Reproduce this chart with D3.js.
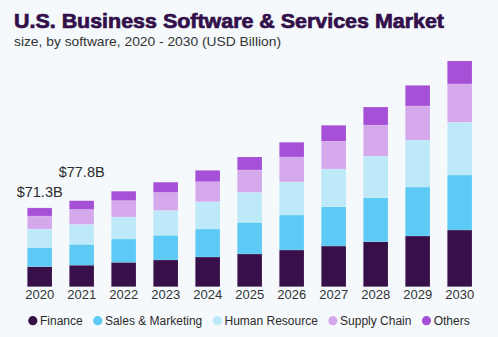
<!DOCTYPE html>
<html>
<head>
<meta charset="utf-8">
<script src="https://cdn.jsdelivr.net/npm/d3@7"></script>
<style>
  html, body { margin: 0; padding: 0; background: #f5f9fc; }
  svg { display: block; font-family: "Liberation Sans", Arial, sans-serif; }
</style>
</head>
<body>
<svg id="chart" width="498" height="337"></svg>
<script>
// U.S. business software & services market size by software segment (USD Billion)
const years = ["2020","2021","2022","2023","2024","2025","2026","2027","2028","2029","2030"];
const segments = ["Finance","Sales & Marketing","Human Resource","Supply Chain","Others"];
const finance        = [18.2, 19.5, 22.1, 24.2, 26.9, 29.6, 33.2, 36.8, 40.7, 45.9, 51.3];
const salesMarketing = [17.3, 18.9, 21.1, 22.4, 25.3, 28.7, 31.7, 35.6, 39.8, 44.3, 49.8];
const humanResource  = [16.7, 18.0, 19.9, 22.4, 24.7, 27.1, 29.9, 34.1, 37.7, 42.5, 47.7];
const supplyChain    = [11.8, 13.5, 14.8, 16.3, 18.1, 20.2, 22.6, 25.1, 28.1, 30.8, 34.7];
const others         = [ 7.3,  7.9,  8.5,  9.3, 10.3, 11.8, 13.3, 14.5, 16.3, 18.7, 20.8];
// years whose total is written above the bar
const labelledYears = ["2020","2021"];

const colors = ["#37104a", "#5ccaf5", "#bde9f9", "#d5a8ec", "#a650d7"];
const seriesValues = [finance, salesMarketing, humanResource, supplyChain, others];

const rows = years.map((yr, i) => {
  const r = { year: yr };
  segments.forEach((s, j) => { r[s] = seriesValues[j][i]; });
  r.total = d3.sum(seriesValues, v => v[i]);
  return r;
});

const svg = d3.select("#chart");

// title and subtitle
svg.append("text")
  .attr("x", 14).attr("y", 27.5)
  .attr("font-size", 20).attr("font-weight", 900)
  .attr("fill", "#33104a").attr("stroke", "#33104a").attr("stroke-width", 0.7)
  .attr("textLength", 430).attr("lengthAdjust", "spacingAndGlyphs")
  .text("U.S. Business Software & Services Market");

svg.append("text")
  .attr("x", 14).attr("y", 45.5)
  .attr("font-size", 13.5)
  .attr("fill", "#333")
  .attr("textLength", 267).attr("lengthAdjust", "spacingAndGlyphs")
  .text("size, by software, 2020 - 2030 (USD Billion)");

// scales
const x = d3.scaleBand()
  .domain(years)
  .range([18.65, 480.65])
  .paddingInner(0.412)
  .paddingOuter(0.206);

const y = d3.scaleLinear()
  .domain([0, 200])
  .range([286.7, 65.7]);

const color = d3.scaleOrdinal().domain(segments).range(colors);

const stacked = d3.stack().keys(segments)(rows);

svg.append("g")
  .selectAll("g")
  .data(stacked)
  .join("g")
    .attr("fill", d => color(d.key))
  .selectAll("rect")
  .data(d => d)
  .join("rect")
    .attr("x", d => x(d.data.year))
    .attr("width", x.bandwidth())
    .attr("y", d => y(d[1]))
    .attr("height", d => y(d[0]) - y(d[1]))
    .attr("stroke", "#ffffff")
    .attr("stroke-opacity", 0.25)
    .attr("stroke-width", 0.5);

// total value labels
const labelLift = { "2020": 10.5, "2021": 23.5 };
svg.append("g")
  .selectAll("text")
  .data(rows.filter(r => labelledYears.includes(r.year)))
  .join("text")
    .attr("x", d => x(d.year) + x.bandwidth() / 2)
    .attr("y", d => y(d.total) - labelLift[d.year])
    .attr("text-anchor", "middle")
    .attr("font-size", 14.5)
    .attr("fill", "#2b2b2b")
    .text(d => "$" + d.total.toFixed(1) + "B");

// x axis (labels only)
const xAxis = svg.append("g")
  .attr("transform", "translate(0,286.7)")
  .call(d3.axisBottom(x).tickSize(0).tickPadding(3));
xAxis.select(".domain").remove();
xAxis.selectAll("text")
  .attr("font-size", 13)
  .attr("font-family", "Liberation Sans, Arial, sans-serif")
  .attr("fill", "#333");

// legend, centred under the chart
const legend = svg.append("g");
let lx = 0;
segments.forEach((s, i) => {
  const item = legend.append("g").attr("transform", `translate(${lx},0)`);
  item.append("circle").attr("cx", 4.5).attr("cy", 0).attr("r", 4.6).attr("fill", colors[i]);
  const t = item.append("text")
    .attr("x", 11.7).attr("y", 4.3)
    .attr("font-size", 12)
    .attr("fill", "#2b2b2b")
    .text(s);
  lx += 11.7 + t.node().getComputedTextLength() + 10.5;
});
const legendWidth = lx - 10.5;
legend.attr("transform", `translate(${(498 - legendWidth) / 2},320.7)`);
</script>
</body>
</html>
